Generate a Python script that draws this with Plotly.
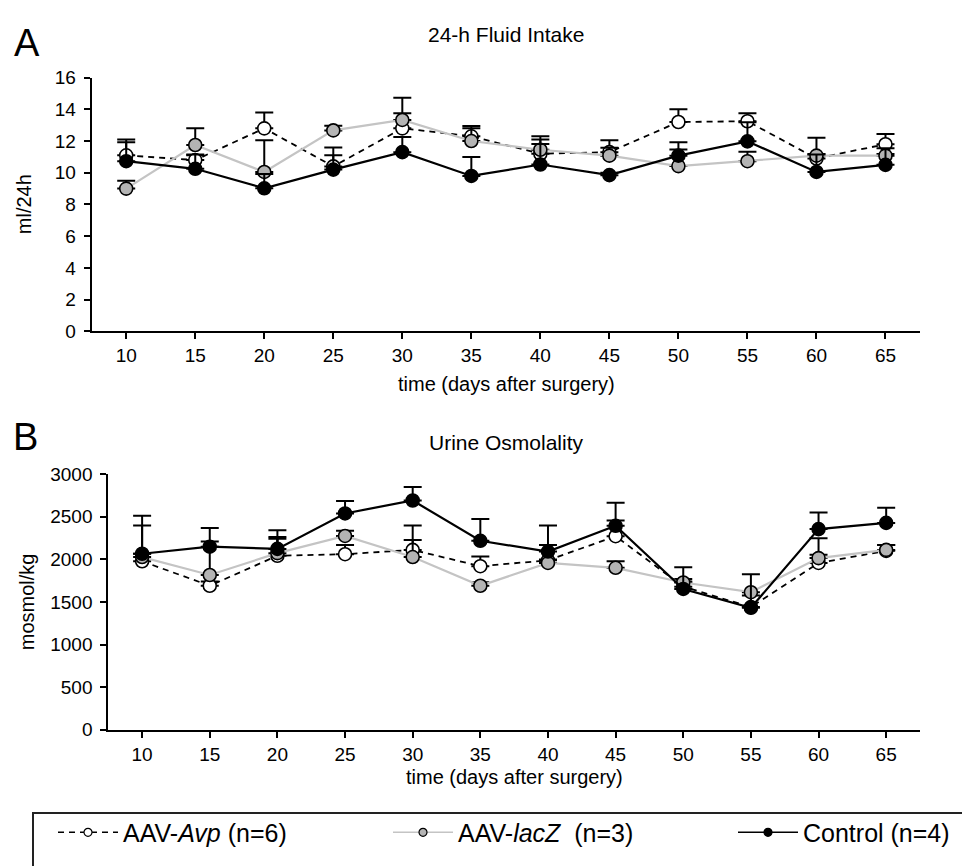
import plotly.graph_objects as go

W, H = 962, 866

days = [10, 15, 20, 25, 30, 35, 40, 45, 50, 55, 60, 65]

# Panel A: 24-h fluid intake (ml/24h), mean and upper SEM
avp_a = [11.1, 10.8, 12.8, 10.4, 12.8, 12.3, 11.2, 11.3, 13.2, 13.25, 10.9, 11.8]
avp_a_err = [1.0, 0.3, 1.0, 1.2, 0.95, 0.65, 1.1, 0.75, 0.8, 0.5, 1.3, 0.65]
lacz_a = [9.0, 11.75, 10.05, 12.67, 13.33, 12.0, 11.45, 11.08, 10.42, 10.73, 11.08, 11.08]
lacz_a_err = [0.5, 1.05, 2.0, 0.3, 1.4, 0.8, 0.65, 0.5, 1.05, 0.6, 0.1, 0.1]
ctrl_a = [10.73, 10.25, 9.02, 10.2, 11.3, 9.8, 10.52, 9.85, 11.08, 11.98, 10.05, 10.5]
ctrl_a_err = [1.2, 0.9, 0.9, 0.9, 0.95, 1.2, 1.3, 0.15, 0.85, 1.2, 1.1, 1.05]

# Panel B: urine osmolality (mosmol/kg)
avp_b = [1978, 1691, 2043, 2061, 2111, 1920, 1989, 2272, 1680, 1440, 1958, 2100]
avp_b_err = [420, 50, 221, 108, 287, 115, 180, 183, 60, 137, 290, 70]
lacz_b = [2027, 1817, 2073, 2275, 2027, 1691, 1958, 1901, 1729, 1615, 2015, 2111]
lacz_b_err = [40, 393, 170, 60, 199, 40, 40, 77, 40, 0, 40, 58]
ctrl_b = [2066, 2149, 2123, 2539, 2691, 2218, 2092, 2394, 1653, 1432, 2355, 2428]
ctrl_b_err = [446, 218, 218, 145, 157, 256, 306, 271, 256, 393, 195, 179]

tick_vals = days
tick_text = [str(d) for d in days]

FONT = "Liberation Sans, Arial, sans-serif"

def px(x):
    return x / W

def py(y):
    return 1 - y / H

series = [
    dict(name="AAV-<i>Avp</i> (n=6)", a=avp_a, ae=avp_a_err, b=avp_b, be=avp_b_err,
         line=dict(color="black", width=1.8, dash="6px,5px"), fill="white", legend="legend"),
    dict(name="AAV-<i>lacZ</i>  (n=3)", a=lacz_a, ae=lacz_a_err, b=lacz_b, be=lacz_b_err,
         line=dict(color="#c4c4c4", width=2.2), fill="#b4b4b4", legend="legend2"),
    dict(name="Control (n=4)", a=ctrl_a, ae=ctrl_a_err, b=ctrl_b, be=ctrl_b_err,
         line=dict(color="black", width=2.2), fill="black", legend="legend3"),
]

fig = go.Figure()
for s in series:
    for panel, (xa, ya) in (("a", ("x", "y")), ("b", ("x2", "y2"))):
        fig.add_trace(go.Scatter(
            x=days, y=s[panel], xaxis=xa, yaxis=ya,
            mode="lines+markers", name=s["name"],
            line=s["line"],
            marker=dict(symbol="circle", size=13, color=s["fill"],
                        line=dict(color="black", width=1.6)),
            error_y=dict(type="data", array=s[panel + "e"], arrayminus=[0] * len(days),
                         symmetric=False, color="black", thickness=2, width=9),
            showlegend=False,
        ))
    # legend entry (smaller marker, as in the original key)
    fig.add_trace(go.Scatter(
        x=[None], y=[None], mode="lines+markers", name=s["name"],
        line=dict(color=s["line"]["color"], width=1.6,
                  dash=s["line"].get("dash", "solid")),
        marker=dict(symbol="circle", size=8, color=s["fill"],
                    line=dict(color="black", width=1.2)),
        showlegend=True, legend=s["legend"],
    ))

axis_common = dict(showline=True, linecolor="black", linewidth=2, ticks="outside",
                   ticklen=6, tickwidth=2, tickcolor="black", showgrid=False, zeroline=False,
                   tickfont=dict(family=FONT, size=19, color="black"))

fig.update_layout(
    width=W, height=H, margin=dict(l=0, r=0, t=0, b=0),
    paper_bgcolor="white", plot_bgcolor="white",
    font=dict(family=FONT, color="black"),
    xaxis=dict(domain=[px(91.7), px(920)], range=[7.5, 67.5], tickvals=tick_vals,
               ticktext=tick_text, anchor="y", **axis_common),
    yaxis=dict(domain=[py(329.3), py(69.3)], range=[0, 16], dtick=2, anchor="x",
               ticklabelstandoff=4, **axis_common),
    xaxis2=dict(domain=[px(108.3), px(920)], range=[7.5, 67.5], tickvals=tick_vals,
                ticktext=tick_text, anchor="y2", **axis_common),
    yaxis2=dict(domain=[py(737.7), py(475.7)], range=[0, 3000], dtick=500, anchor="x2",
                ticklabelstandoff=4, **axis_common),
)

leg_common = dict(orientation="h", xanchor="left", yanchor="middle", bgcolor="rgba(0,0,0,0)",
                  borderwidth=0, font=dict(family=FONT, size=25, color="black"), itemwidth=60)
fig.update_layout(
    legend=dict(x=px(53), y=py(843), **leg_common),
    legend2=dict(x=px(388), y=py(843), **leg_common),
    legend3=dict(x=px(733), y=py(843), **leg_common),
)

# legend frame
fig.add_shape(type="rect", xref="paper", yref="paper", x0=px(33), x1=px(975), y0=py(823), y1=py(880),
              line=dict(color="#222", width=2), fillcolor="rgba(0,0,0,0)", layer="below")

def ann(text, x, y, size, angle=0):
    fig.add_annotation(text=text, x=px(x), y=py(y), xref="paper", yref="paper", showarrow=False,
                       xanchor="center", yanchor="middle", textangle=angle,
                       font=dict(family=FONT, size=size, color="black"))

ann("A", 27, 34, 38)
ann("B", 25, 438, 38)
ann("24-h Fluid Intake", 506, 25, 21)
ann("Urine Osmolality", 506, 443, 21)
ann("time (days after surgery)", 506, 383, 20)
ann("time (days after surgery)", 514, 786, 20)
ann("ml/24h", 24, 199, 20, -90)
ann("mosmol/kg", 27, 607, 20, -90)

fig.write_html("out.html")
